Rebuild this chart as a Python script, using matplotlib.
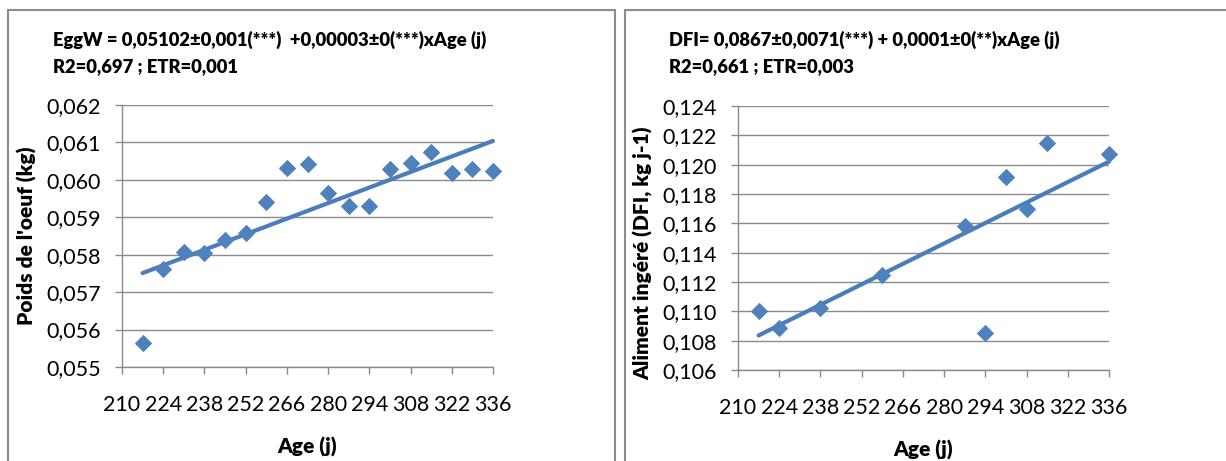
import numpy as np
import matplotlib
matplotlib.use("Agg")
import matplotlib.pyplot as plt
from matplotlib.patches import Rectangle
from matplotlib.ticker import FixedLocator, FuncFormatter

plt.rcParams['font.family'] = ['Lato', 'DejaVu Sans']

# ---------------- data ----------------
age_egg = [217, 224, 231, 238, 245, 252, 259, 266, 273, 280, 287, 294, 301, 308, 315, 322, 329, 336]
egg_weight = [0.05564, 0.05762, 0.05807, 0.05805, 0.05839, 0.05859, 0.05940, 0.06033, 0.06042,
              0.05964, 0.05931, 0.05931, 0.06029, 0.06044, 0.06075, 0.06017, 0.06029, 0.06024]

age_dfi = [217, 224, 238, 259, 287, 294, 301, 308, 315, 336]
dfi = [0.11005, 0.10884, 0.11020, 0.11245, 0.11582, 0.10855, 0.11918, 0.11698, 0.12145, 0.12070]

x_ticks = [210, 224, 238, 252, 266, 280, 294, 308, 322, 336]
egg_yticks = [0.055, 0.056, 0.057, 0.058, 0.059, 0.060, 0.061, 0.062]
dfi_yticks = [0.106, 0.108, 0.110, 0.112, 0.114, 0.116, 0.118, 0.120, 0.122, 0.124]

egg_title = ["EggW = 0,05102±0,001(***)  +0,00003±0(***)xAge (j)", "R2=0,697 ; ETR=0,001"]
dfi_title = ["DFI= 0,0867±0,0071(***) + 0,0001±0(**)xAge (j)", "R2=0,661 ; ETR=0,003"]
egg_ylabel = "Poids de l'oeuf (kg)"
dfi_ylabel = "Aliment ingéré (DFI, kg j-1)"
x_label = "Age (j)"

# ---------------- style ----------------
BLUE = "#4F81BD"
LINE = "#4A7EBB"
GRID = "#8A8A8A"
BORDER = "#8C8C8C"
WEIGHT = "heavy"

W, H = 1226, 461
fig = plt.figure(figsize=(W / 100, H / 100), dpi=100)


def px_rect(x0, y0, x1, y1):
    return [x0 / W, 1 - y1 / H, (x1 - x0) / W, (y1 - y0) / H]


# panel borders
for (x0, y0, x1, y1) in [(8, 10, 615.5, 470), (625, 10, 1240, 470)]:
    fig.patches.append(Rectangle((x0 / W, 1 - y1 / H), (x1 - x0) / W, (y1 - y0) / H,
                                 transform=fig.transFigure, fill=False,
                                 edgecolor=BORDER, linewidth=1.5))


def decimal_comma(nd):
    return FuncFormatter(lambda v, p: f"{v:.{nd}f}".replace(".", ","))


def panel(rect, x, y, yticks, title, ylabel, title_xy, ylabel_xy, xlabel_y):
    ax = fig.add_axes(px_rect(*rect))
    ax.scatter(x, y, marker="D", s=78, color=BLUE, zorder=3, linewidths=0)
    slope, intercept = np.polyfit(x, y, 1)
    xs = np.array([min(x), max(x)])
    ax.plot(xs, intercept + slope * xs, color=LINE, lw=3.0, zorder=2, solid_capstyle="round")
    ax.set_xlim(x_ticks[0], x_ticks[-1])
    ax.set_ylim(yticks[0], yticks[-1])
    ax.xaxis.set_major_locator(FixedLocator(x_ticks))
    ax.yaxis.set_major_locator(FixedLocator(yticks))
    ax.yaxis.set_major_formatter(decimal_comma(3))
    ax.grid(axis="y", color=GRID, lw=1.0)
    ax.set_axisbelow(True)
    for s in ["top", "right"]:
        ax.spines[s].set_visible(False)
    for s in ["left", "bottom"]:
        ax.spines[s].set_color(GRID)
        ax.spines[s].set_linewidth(1.0)
    ax.tick_params(axis="both", colors=GRID, length=5, width=1.0, labelcolor="black", labelsize=15.5)
    ax.tick_params(axis="y", pad=10)
    ax.tick_params(axis="x", pad=15)
    for c in ax.collections + ax.lines:
        c.set_clip_on(False)
    tx, ty = title_xy
    fig.text(tx / W, 1 - ty / H, title[0], fontsize=13.2, fontweight=WEIGHT, va="center", ha="left")
    fig.text(tx / W, 1 - (ty + 27) / H, title[1], fontsize=13.2, fontweight=WEIGHT, va="center", ha="left")
    lx, ly = ylabel_xy
    fig.text(lx / W, 1 - ly / H, ylabel, fontsize=15, fontweight=WEIGHT, rotation=90,
             va="center", ha="center")
    fig.text((rect[0] + rect[2]) / 2 / W, 1 - xlabel_y / H, x_label, fontsize=15,
             fontweight=WEIGHT, va="center", ha="center")
    return ax


panel((122, 105, 493, 367), age_egg, egg_weight, egg_yticks, egg_title, egg_ylabel,
      (53, 40), (27, 236), 447)
panel((738, 106, 1109, 370), age_dfi, dfi, dfi_yticks, dfi_title, dfi_ylabel,
      (669, 40), (643, 253), 450)

fig.savefig("out.png", dpi=100)
